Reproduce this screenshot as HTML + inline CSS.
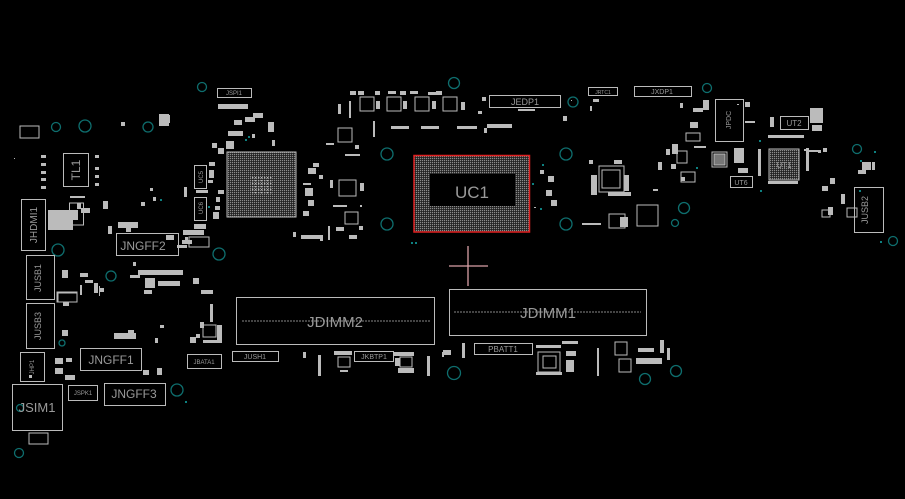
<!DOCTYPE html>
<html><head><meta charset="utf-8"><style>
html,body{margin:0;padding:0;background:#000;}
svg{display:block}
text{font-family:"Liberation Sans",sans-serif;fill:#9a9a9a}
</style></head><body>
<svg width="905" height="499" viewBox="0 0 905 499" xmlns="http://www.w3.org/2000/svg">
<defs>
<pattern id="g" width="2" height="2" patternUnits="userSpaceOnUse"><rect width="1.2" height="1.2" fill="#a8a8a8"/><rect width="2" height="2" fill="#555" opacity="0.35"/></pattern>
<pattern id="g2" width="3" height="3" patternUnits="userSpaceOnUse"><rect width="1.4" height="1.4" fill="#b0b0b0"/></pattern>
</defs>
<rect width="905" height="499" fill="#000"/>

<!-- teal circles -->
<g fill="none" stroke="#0e6e6e" stroke-width="1.3">
<circle cx="202" cy="87" r="4.5"/><circle cx="454" cy="83" r="5.5"/><circle cx="573" cy="102" r="5"/><circle cx="707" cy="88" r="4.5"/>
<circle cx="56" cy="127" r="4.5"/><circle cx="85" cy="126" r="6"/><circle cx="148" cy="127" r="5"/>
<circle cx="387" cy="154" r="6"/><circle cx="566" cy="154" r="6"/><circle cx="387" cy="224" r="6"/><circle cx="566" cy="224" r="6"/>
<circle cx="684" cy="208" r="5.5"/><circle cx="675" cy="223" r="3.5"/><circle cx="857" cy="149" r="4.5"/><circle cx="893" cy="241" r="4.5"/>
<circle cx="58" cy="250" r="6"/><circle cx="219" cy="254" r="6"/><circle cx="111" cy="276" r="5"/><circle cx="62" cy="343" r="3"/>
<circle cx="177" cy="390" r="6"/><circle cx="19" cy="453" r="4.5"/><circle cx="20" cy="408" r="3.5"/>
<circle cx="454" cy="373" r="6.5"/><circle cx="645" cy="379" r="5.5"/><circle cx="676" cy="371" r="5.5"/>
</g>

<!-- crosshair -->
<g stroke="#d9a0a6" stroke-width="1.3"><line x1="449" y1="266" x2="488" y2="266"/><line x1="468" y1="246" x2="468" y2="286"/></g>

<!-- UC1 -->
<rect x="414" y="155.5" width="115.5" height="76.5" fill="url(#g)" stroke="#e02020" stroke-width="1.5"/>
<rect x="430" y="174" width="85" height="32" fill="#000"/>
<text x="472" y="198" font-size="17" text-anchor="middle">UC1</text>

<!-- UH1 -->
<rect x="227" y="152" width="69" height="65" fill="url(#g)" stroke="#bbb" stroke-width="1"/>
<rect x="250" y="176" width="22" height="18" fill="url(#g2)"/>

<!-- UT1 -->
<rect x="769" y="149" width="30" height="31" fill="url(#g)" stroke="#bbb" stroke-width="1"/>
<!-- small QFN-ish -->
<g fill="none" stroke="#bbb" stroke-width="1">
<rect x="599" y="166" width="25" height="26"/><rect x="602" y="170" width="18" height="18"/>
<rect x="637" y="205" width="21" height="21"/>
<rect x="609" y="214" width="16" height="14"/>
<rect x="712" y="152" width="15" height="15"/><rect x="714" y="154" width="11" height="11" fill="#777"/>
<rect x="339" y="180" width="17" height="16"/><rect x="345" y="212" width="13" height="12"/>
<rect x="360" y="97" width="14" height="14"/><rect x="387" y="97" width="14" height="14"/><rect x="415" y="97" width="14" height="14"/><rect x="443" y="97" width="14" height="14"/>
<rect x="338" y="128" width="14" height="14"/>
<rect x="203" y="325" width="13" height="12"/><rect x="338" y="357" width="12" height="10"/><rect x="400" y="357" width="12" height="10"/>
<rect x="538" y="352" width="22" height="20"/><rect x="543" y="356" width="13" height="12"/>
<rect x="615" y="342" width="12" height="13"/><rect x="619" y="359" width="12" height="13"/>
<rect x="20" y="126" width="19" height="12"/><rect x="57" y="292" width="20" height="10"/><rect x="29" y="433" width="19" height="11"/>
<rect x="686" y="133" width="14" height="8"/><rect x="677" y="151" width="10" height="12"/><rect x="681" y="172" width="14" height="10"/>
<rect x="847" y="208" width="10" height="9"/><rect x="822" y="210" width="8" height="7"/>
</g>

<!-- connectors -->
<g fill="none" stroke="#bbb" stroke-width="1">
<rect x="236.5" y="297.5" width="198" height="47"/>
<rect x="449.5" y="289.5" width="197" height="46"/>
<rect x="116.5" y="233.5" width="62" height="22"/>
<rect x="80.5" y="348.5" width="61" height="22"/>
<rect x="104.5" y="383.5" width="61" height="22"/>
<rect x="63.5" y="153.5" width="25" height="33"/>
<rect x="21.5" y="199.5" width="24" height="51"/>
<rect x="26.5" y="255.5" width="28" height="44"/>
<rect x="26.5" y="303.5" width="28" height="45"/>
<rect x="20.5" y="352.5" width="24" height="29"/>
<rect x="12.5" y="384.5" width="50" height="46"/>
<rect x="68.5" y="385.5" width="29" height="15"/>
<rect x="187.5" y="354.5" width="34" height="14"/>
<rect x="232.5" y="351.5" width="46" height="10"/>
<rect x="354.5" y="351.5" width="39" height="10"/>
<rect x="474.5" y="343.5" width="58" height="11"/>
<rect x="489.5" y="95.5" width="71" height="12"/>
<rect x="588.5" y="87.5" width="29" height="8"/>
<rect x="634.5" y="86.5" width="57" height="10"/>
<rect x="217.5" y="88.5" width="34" height="9"/>
<rect x="854.5" y="187.5" width="29" height="45"/>
<rect x="715.5" y="99.5" width="28" height="42"/>
<rect x="780.5" y="116.5" width="28" height="13"/>
<rect x="730.5" y="176.5" width="22" height="11"/>
<rect x="69.5" y="203" width="14" height="22"/>
<rect x="189" y="237" width="20" height="10"/>
<rect x="58" y="293" width="19" height="9"/>
</g>
<g stroke="#888" stroke-width="1" stroke-dasharray="2 1">
<line x1="242" y1="321" x2="430" y2="321"/><line x1="454" y1="312" x2="641" y2="312"/>
</g>

<!-- labels -->
<text x="335" y="327" font-size="15" text-anchor="middle">JDIMM2</text>
<text x="548" y="318" font-size="15" text-anchor="middle">JDIMM1</text>
<text x="143" y="250" font-size="12" text-anchor="middle">JNGFF2</text>
<text x="111" y="364" font-size="12" text-anchor="middle">JNGFF1</text>
<text x="134" y="398" font-size="12" text-anchor="middle">JNGFF3</text>
<text x="37" y="412" font-size="13" text-anchor="middle">JSIM1</text>
<text x="83" y="395" font-size="6" text-anchor="middle">JSPK1</text>
<text x="204" y="364" font-size="6" text-anchor="middle">JBATA1</text>
<text x="255" y="359" font-size="7" text-anchor="middle">JUSH1</text>
<text x="374" y="359" font-size="7" text-anchor="middle">JKBTP1</text>
<text x="503" y="352" font-size="8" text-anchor="middle">PBATT1</text>
<text x="525" y="105" font-size="9" text-anchor="middle">JEDP1</text>
<text x="603" y="94" font-size="5" text-anchor="middle">JRTC1</text>
<text x="662" y="94" font-size="7" text-anchor="middle">JXDP1</text>
<text x="234" y="95" font-size="6" text-anchor="middle">JSPI1</text>
<text x="794" y="126" font-size="8" text-anchor="middle">UT2</text>
<text x="741" y="185" font-size="7" text-anchor="middle">UT6</text>
<text x="784" y="168" font-size="8" text-anchor="middle" fill="#666">UT1</text>
<text transform="translate(80,170) rotate(-90)" font-size="12" text-anchor="middle">TL1</text>
<text transform="translate(37,225) rotate(-90)" font-size="10" text-anchor="middle">JHDMI1</text>
<text transform="translate(41,278) rotate(-90)" font-size="9" text-anchor="middle">JUSB1</text>
<text transform="translate(41,326) rotate(-90)" font-size="9" text-anchor="middle">JUSB3</text>
<text transform="translate(34,367) rotate(-90)" font-size="6" text-anchor="middle">JHP1</text>
<text transform="translate(868,210) rotate(-90)" font-size="9" text-anchor="middle">JUSB2</text>
<text transform="translate(731,120) rotate(-90)" font-size="7" text-anchor="middle">JPDC</text>
<text transform="translate(203,177) rotate(-90)" font-size="6" text-anchor="middle">UC5</text>
<text transform="translate(203,208) rotate(-90)" font-size="6" text-anchor="middle">UC6</text>
<g fill="none" stroke="#bbb"><rect x="194.5" y="165.5" width="12" height="23"/><rect x="194.5" y="197.5" width="12" height="23"/></g>

<!-- small components (texture) -->
<g fill="#bbb">
<rect x="350" y="91" width="6" height="4"/><rect x="358" y="91" width="6" height="4"/><rect x="375" y="91" width="5" height="4"/><rect x="388" y="91" width="8" height="3"/><rect x="400" y="91" width="6" height="4"/><rect x="410" y="91" width="8" height="3"/><rect x="428" y="92" width="10" height="3"/><rect x="436" y="91" width="6" height="4"/>
<rect x="376" y="101" width="4" height="8"/><rect x="403" y="101" width="4" height="8"/><rect x="432" y="101" width="4" height="8"/><rect x="461" y="102" width="4" height="8"/><rect x="478" y="111" width="4" height="3"/><rect x="482" y="97" width="4" height="4"/>
<rect x="338" y="104" width="3" height="10"/><rect x="349" y="101" width="2" height="17"/><rect x="373" y="121" width="2" height="16"/>
<rect x="391" y="126" width="18" height="3"/><rect x="421" y="126" width="18" height="3"/><rect x="457" y="126" width="20" height="3"/>
<rect x="345" y="154" width="15" height="2"/><rect x="326" y="143" width="8" height="2"/><rect x="355" y="145" width="4" height="4"/>
<rect x="487" y="124" width="25" height="4"/><rect x="484" y="128" width="3" height="5"/>
<rect x="518" y="109" width="17" height="2"/><rect x="563" y="116" width="4" height="5"/><rect x="571" y="100" width="1" height="1"/>
<rect x="590" y="106" width="2" height="5"/><rect x="593" y="99" width="6" height="3"/>
<rect x="680" y="103" width="3" height="5"/><rect x="693" y="108" width="10" height="4"/><rect x="690" y="122" width="8" height="6"/><rect x="703" y="100" width="6" height="10"/>
<rect x="810" y="108" width="13" height="15"/><rect x="812" y="125" width="10" height="6"/><rect x="768" y="135" width="36" height="3"/><rect x="770" y="117" width="4" height="10"/>
<rect x="823" y="148" width="4" height="4"/><rect x="818" y="150" width="3" height="3"/>
<rect x="806" y="148" width="3" height="23"/><rect x="758" y="149" width="3" height="27"/><rect x="768" y="181" width="30" height="3"/>
<rect x="804" y="149" width="3" height="2"/><rect x="806" y="150" width="13" height="2"/>
<rect x="830" y="178" width="5" height="6"/><rect x="872" y="162" width="3" height="8"/><rect x="862" y="162" width="9" height="8"/><rect x="858" y="170" width="8" height="4"/>
<rect x="822" y="186" width="6" height="5"/><rect x="841" y="194" width="4" height="10"/><rect x="828" y="207" width="5" height="8"/>
<rect x="694" y="146" width="12" height="2"/><rect x="734" y="148" width="10" height="15"/><rect x="738" y="168" width="10" height="5"/>
<rect x="737" y="104" width="2" height="1"/><rect x="745" y="102" width="5" height="5"/><rect x="745" y="121" width="10" height="2"/>
<rect x="672" y="144" width="6" height="10"/><rect x="666" y="149" width="4" height="6"/><rect x="658" y="162" width="4" height="8"/>
<rect x="671" y="164" width="5" height="5"/><rect x="681" y="177" width="4" height="4"/>
<rect x="589" y="160" width="4" height="4"/><rect x="591" y="175" width="6" height="20"/><rect x="608" y="192" width="23" height="4"/><rect x="614" y="160" width="8" height="4"/><rect x="624" y="175" width="5" height="16"/>
<rect x="653" y="189" width="5" height="2"/><rect x="582" y="223" width="19" height="2"/><rect x="620" y="217" width="8" height="10"/>
<rect x="540" y="170" width="4" height="4"/><rect x="548" y="176" width="6" height="6"/><rect x="546" y="190" width="6" height="6"/><rect x="551" y="200" width="6" height="6"/><rect x="534" y="207" width="2" height="1"/>
<rect x="313" y="163" width="6" height="4"/><rect x="308" y="168" width="8" height="6"/><rect x="319" y="175" width="4" height="4"/><rect x="303" y="183" width="8" height="2"/><rect x="305" y="188" width="8" height="8"/><rect x="308" y="200" width="6" height="6"/>
<rect x="303" y="211" width="6" height="5"/><rect x="301" y="235" width="22" height="4"/><rect x="293" y="232" width="3" height="5"/><rect x="320" y="238" width="3" height="3"/><rect x="328" y="226" width="2" height="14"/>
<rect x="336" y="227" width="8" height="4"/><rect x="349" y="235" width="8" height="4"/><rect x="359" y="226" width="4" height="4"/><rect x="333" y="205" width="14" height="2"/><rect x="360" y="205" width="2" height="2"/><rect x="330" y="180" width="3" height="8"/><rect x="360" y="183" width="4" height="8"/>
<rect x="228" y="131" width="15" height="5"/><rect x="234" y="120" width="8" height="5"/><rect x="245" y="117" width="10" height="5"/><rect x="253" y="113" width="10" height="5"/><rect x="268" y="122" width="6" height="10"/><rect x="272" y="140" width="3" height="6"/><rect x="252" y="134" width="3" height="4"/><rect x="226" y="141" width="8" height="8"/><rect x="218" y="148" width="6" height="6"/><rect x="212" y="143" width="5" height="5"/>
<rect x="218" y="104" width="30" height="5"/><rect x="161" y="116" width="8" height="8"/><rect x="121" y="122" width="4" height="4"/><rect x="159" y="114" width="10" height="12"/><rect x="166" y="115" width="4" height="8"/>
<rect x="209" y="162" width="6" height="4"/><rect x="209" y="170" width="5" height="8"/><rect x="208" y="180" width="5" height="3"/><rect x="184" y="187" width="3" height="10"/><rect x="196" y="190" width="12" height="3"/>
<rect x="218" y="190" width="6" height="4"/><rect x="216" y="197" width="4" height="5"/><rect x="215" y="206" width="5" height="4"/><rect x="213" y="212" width="6" height="7"/>
<rect x="194" y="224" width="12" height="5"/><rect x="185" y="237" width="3" height="3"/><rect x="214" y="214" width="1" height="1"/>
<rect x="150" y="188" width="3" height="3"/><rect x="153" y="197" width="3" height="4"/><rect x="141" y="202" width="4" height="4"/><rect x="103" y="201" width="5" height="8"/><rect x="95" y="155" width="4" height="3"/><rect x="95" y="167" width="4" height="3"/><rect x="95" y="175" width="4" height="3"/><rect x="95" y="183" width="4" height="3"/>
<rect x="70" y="196" width="15" height="2"/><rect x="48" y="210" width="25" height="20"/><rect x="53" y="214" width="10" height="10"/><rect x="73" y="210" width="5" height="10"/><rect x="77" y="203" width="4" height="6"/><rect x="81" y="208" width="9" height="5"/><rect x="118" y="222" width="20" height="6"/><rect x="108" y="226" width="4" height="8"/>
<rect x="126" y="226" width="5" height="6"/><rect x="166" y="235" width="8" height="5"/><rect x="183" y="230" width="21" height="5"/><rect x="177" y="245" width="10" height="3"/><rect x="182" y="240" width="10" height="4"/>
<rect x="138" y="270" width="45" height="5"/><rect x="158" y="281" width="22" height="5"/><rect x="145" y="278" width="10" height="10"/><rect x="130" y="275" width="10" height="3"/><rect x="193" y="278" width="6" height="6"/><rect x="144" y="290" width="8" height="4"/><rect x="133" y="262" width="3" height="4"/>
<rect x="62" y="270" width="6" height="8"/><rect x="80" y="273" width="8" height="4"/><rect x="85" y="280" width="8" height="3"/><rect x="94" y="283" width="4" height="10"/><rect x="80" y="285" width="2" height="10"/><rect x="100" y="288" width="4" height="4"/><rect x="99" y="286" width="1" height="10"/>
<rect x="201" y="290" width="12" height="4"/><rect x="210" y="304" width="3" height="18"/><rect x="200" y="322" width="4" height="6"/><rect x="196" y="334" width="4" height="4"/><rect x="190" y="337" width="6" height="6"/><rect x="203" y="340" width="14" height="3"/><rect x="217" y="325" width="5" height="18"/>
<rect x="160" y="325" width="4" height="3"/><rect x="155" y="338" width="3" height="5"/><rect x="114" y="333" width="22" height="6"/><rect x="128" y="330" width="6" height="5"/><rect x="143" y="370" width="6" height="5"/><rect x="157" y="368" width="5" height="7"/>
<rect x="63" y="302" width="6" height="4"/><rect x="62" y="330" width="6" height="6"/><rect x="55" y="358" width="8" height="6"/><rect x="55" y="368" width="8" height="6"/><rect x="66" y="358" width="6" height="4"/><rect x="65" y="375" width="10" height="5"/>
<rect x="303" y="352" width="3" height="6"/><rect x="318" y="355" width="3" height="21"/><rect x="334" y="351" width="18" height="4"/><rect x="340" y="370" width="8" height="2"/>
<rect x="394" y="352" width="20" height="4"/><rect x="395" y="358" width="5" height="8"/><rect x="398" y="368" width="16" height="5"/><rect x="427" y="356" width="3" height="20"/><rect x="442" y="352" width="2" height="5"/><rect x="462" y="343" width="3" height="15"/><rect x="443" y="350" width="8" height="5"/>
<rect x="536" y="345" width="25" height="3"/><rect x="562" y="341" width="16" height="3"/><rect x="566" y="351" width="10" height="5"/><rect x="566" y="360" width="8" height="12"/><rect x="536" y="372" width="26" height="3"/><rect x="597" y="348" width="2" height="28"/>
<rect x="638" y="348" width="16" height="4"/><rect x="636" y="358" width="26" height="6"/><rect x="660" y="340" width="4" height="13"/><rect x="667" y="348" width="3" height="12"/>
<rect x="29" y="375" width="3" height="3"/><rect x="14" y="158" width="1" height="1"/>
<rect x="41" y="155" width="5" height="3"/><rect x="41" y="163" width="5" height="3"/><rect x="41" y="171" width="5" height="3"/><rect x="41" y="178" width="5" height="3"/><rect x="41" y="186" width="5" height="3"/>
</g>
<!-- small teal dots -->
<g fill="#0e8080">
<rect x="245" y="139" width="2" height="2"/><rect x="248" y="136" width="2" height="2"/><rect x="542" y="164" width="2" height="2"/><rect x="540" y="208" width="2" height="2"/><rect x="532" y="183" width="2" height="2"/><rect x="860" y="160" width="2" height="2"/><rect x="874" y="151" width="2" height="2"/><rect x="859" y="190" width="2" height="2"/><rect x="760" y="190" width="2" height="2"/><rect x="759" y="140" width="2" height="2"/><rect x="696" y="167" width="2" height="2"/><rect x="208" y="206" width="2" height="2"/><rect x="411" y="242" width="2" height="2"/><rect x="415" y="242" width="2" height="2"/><rect x="160" y="199" width="2" height="2"/><rect x="185" y="401" width="2" height="2"/><rect x="880" y="241" width="2" height="2"/>
</g>
</svg>
</body></html>
